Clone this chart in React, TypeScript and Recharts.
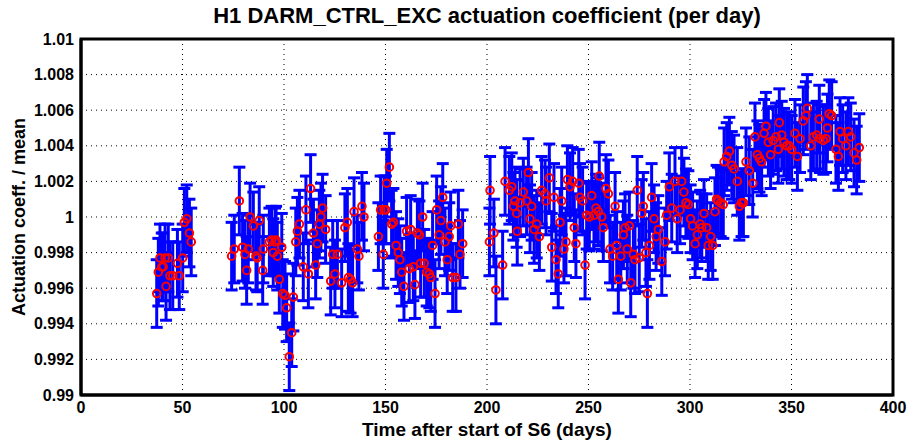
import React from 'react'
import {
  ScatterChart, Scatter, XAxis, YAxis, CartesianGrid, ErrorBar, Label, ReferenceArea,
} from 'recharts'

// ── Data ──────────────────────────────────────────────────────────────────

const days = [
  37.3, 38.1, 38.9, 39.8, 40.5, 41.4, 41.9, 43.0, 43.8, 45.2, 47.5, 48.4, 50.1, 50.9, 52.1, 53.4, 54.3,
  74.2, 75.5, 78.0, 79.6, 80.8, 81.6, 82.4, 83.3, 84.9, 86.2, 86.8, 87.8, 89.5, 89.8, 92.8, 93.9, 94.7,
  95.6, 96.1, 96.7, 97.7, 98.9, 99.4, 100.5, 101.3, 102.6, 103.8, 104.6, 105.8, 106.6, 107.6, 109.5,
  110.8, 112.0, 113.1, 114.5, 115.6, 116.4, 117.4, 118.2, 119.0, 120.5, 123.0, 124.0, 125.1, 126.3,
  128.4, 130.0, 131.2, 131.7, 132.8, 133.8, 134.5, 136.1, 136.9, 138.4, 139.4,
  146.5, 147.6, 148.9, 149.3, 150.2, 150.6, 151.9, 153.0, 153.9, 155.2, 156.3, 157.1, 158.0, 159.1,
  160.4, 161.7, 162.4, 163.7, 164.5, 165.7, 166.7, 167.3, 168.3, 169.1, 170.3, 171.6, 172.3, 173.2,
  174.4, 175.2, 176.4, 177.3, 178.2, 179.3, 180.4, 181.4, 182.1, 183.1, 184.7, 185.9, 186.7, 188.0,
  201.2, 201.5, 203.4, 204.4, 207.7, 208.9, 211.0, 212.2, 213.0, 213.8, 214.6, 214.9, 216.3, 217.9,
  219.5, 220.4, 221.2, 222.0, 223.2, 224.5, 225.8, 226.9, 228.6, 229.1, 230.7, 231.9, 233.0, 234.0,
  235.1, 236.0, 236.8, 237.9, 238.9, 239.6, 240.9, 242.2, 243.0, 243.8, 245.2, 245.8, 247.1, 248.3,
  249.1, 250.4, 251.6, 252.7, 253.7, 254.8, 255.3, 256.5, 257.3, 258.6, 259.8, 260.6, 261.9, 263.1,
  263.9, 264.7, 265.9, 267.2, 268.0, 269.1, 270.1, 270.8, 272.1, 272.9, 274.0, 275.0, 276.2, 277.0,
  278.3, 279.0, 280.0, 281.1, 282.3, 283.3, 284.4, 286.1, 287.7, 288.5, 289.8, 291.0, 292.6, 293.7,
  295.1, 295.9, 297.0, 298.0, 299.2, 300.3, 301.3, 302.5, 303.6, 305.0, 305.8, 306.9, 308.2, 309.0,
  310.2, 311.2, 312.3, 313.1, 313.8, 315.1, 316.4, 316.8, 318.1, 319.4, 320.6, 321.7, 323.3, 324.3,
  325.4, 326.3, 327.6, 329.2, 330.9, 332.0, 333.2, 334.2, 335.3, 336.5, 337.4, 338.6, 339.7, 341.0,
  342.4, 343.5, 344.0, 345.2, 346.3, 347.6, 348.9, 350.1, 351.7, 352.9, 354.2, 355.8, 357.1, 357.8,
  359.5, 360.8, 362.4, 363.7, 364.0, 365.7, 367.0, 367.7, 368.6, 369.8, 371.9, 373.1, 373.9, 375.2,
  376.8, 378.0, 379.2, 380.8, 382.1, 383.4,
]

const coeff = [
  0.9957, 0.9969, 0.9977, 0.9972, 0.9972, 0.9977, 0.9961, 0.9977, 0.9967, 0.9967, 0.9974, 0.9967, 0.9977, 0.9997, 0.9999, 0.9991, 0.9986,
  0.9978, 0.9982, 1.0009, 0.9983, 0.9979, 0.9970, 0.9982, 1.0000, 0.9995, 0.9978, 0.9977, 0.9998, 0.9970, 0.9982, 0.9986, 0.9987, 0.9980,
  0.9986, 0.9987, 0.9978, 0.9965, 0.9983, 0.9957, 0.9956, 0.9949, 0.99215, 0.9935, 0.9955, 0.9986, 0.9992, 0.9996, 0.9972,
  1.0004, 0.9968, 1.0016, 0.9991, 0.9973, 0.9985, 0.9996, 1.0000, 1.0005, 0.9993, 0.9964, 0.9979, 0.9968, 0.9979,
  0.9963, 0.9994, 0.9997, 0.9966, 0.9965, 0.9963, 1.0003, 0.9982, 0.9978, 1.0006, 1.0000,
  0.9989, 1.0004, 0.9979, 1.0004, 1.0004, 1.0019, 1.0028, 0.9996, 0.9997, 0.9984, 0.9980, 0.9976, 0.9969, 0.9961,
  0.9992, 0.9971, 0.9993, 0.9972, 0.9962, 0.9991, 0.9990, 0.9974, 1.0000, 0.9974, 0.9969, 0.9968, 0.9966, 0.9984,
  0.9957, 1.0004, 0.9990, 0.9998, 1.0011, 0.9986, 0.9976, 0.9989, 0.9995, 0.9966, 0.9966, 0.9996, 0.9979, 0.9985,
  0.9986, 1.0015, 0.9991, 0.9959, 0.9973, 1.0020, 1.0015, 1.0017, 1.0006, 1.0009, 1.0002, 0.9992, 1.0008, 1.0014,
  1.0009, 1.0025, 0.9999, 1.0006, 0.9993, 0.9996, 0.9989, 1.0015, 1.0013, 1.0009, 1.0022, 0.9983, 1.0011, 0.9976,
  0.9968, 0.9997, 1.0009, 0.9982, 0.9986, 1.0021, 1.0017, 1.0020, 0.9994, 0.9985, 1.0019, 1.0011, 1.0009, 0.9973,
  1.0001, 1.0000, 1.0012, 1.0001, 1.0005, 1.0003, 1.0023, 1.0000, 0.9994, 1.0016, 1.0013, 0.9982, 0.9978, 1.0006,
  0.9984, 0.9965, 0.9978, 0.9990, 0.9994, 0.9982, 0.9995, 0.9963, 0.9979, 0.9976, 1.0015, 0.9977, 1.0002, 1.0006,
  0.9980, 0.9957, 0.9984, 1.0011, 0.9999, 0.9989, 0.9993, 0.9975, 0.9986, 1.0001, 1.0017, 1.0005, 1.0020, 0.9999,
  1.0004, 1.0020, 1.0014, 1.0008, 1.0007, 0.9999, 0.9995, 0.9985, 0.9990, 0.9996, 0.9994, 1.0002, 0.9994, 0.9984,
  0.9989, 0.9984, 1.0003, 1.0010, 1.0009, 1.0008, 1.0007, 1.0031, 1.0034, 1.0037, 1.0029, 1.0027, 1.0020, 1.0006,
  1.0008, 1.0008, 1.0031, 1.0026, 1.0019, 1.0045, 1.0035, 1.0033, 1.0031, 1.0047, 1.0051, 1.0042, 1.0035, 1.0043,
  1.0045, 1.0038, 1.0053, 1.0046, 1.0042, 1.0040, 1.0040, 1.0038, 1.0047, 1.0034, 1.0044, 1.0054, 1.0057, 1.0061,
  1.0040, 1.0045, 1.0046, 1.0055, 1.0044, 1.0043, 1.0044, 1.0050, 1.0058, 1.0057, 1.0038, 1.0034, 1.0048, 1.0044,
  1.0040, 1.0048, 1.0045, 1.0036, 1.0032, 1.0039,
]

// half-length of the error bars (roughly the same for every day)
const ERR_HALF = 0.0019

const xTicks = [0, 50, 100, 150, 200, 250, 300, 350, 400]
const yTicks = [0.99, 0.992, 0.994, 0.996, 0.998, 1, 1.002, 1.004, 1.006, 1.008, 1.01]

const points = days.map((d, i) => ({ day: d, value: coeff[i], err: ERR_HALF }))

// ── Styles ────────────────────────────────────────────────────────────────

const FONT = '"Liberation Sans", Arial, Helvetica, sans-serif'
const TICK_STYLE = { fill: '#000', fontSize: 16, fontWeight: 'bold', fontFamily: FONT }
const FRAME = { stroke: '#000', strokeWidth: 3 }
const INWARD = { stroke: '#000', strokeWidth: 1.5 }

function RedRing(props: any) {
  const { cx, cy } = props
  if (cx == null || cy == null) return <g />
  return <circle cx={cx} cy={cy} r={3.8} fill="none" stroke="#ff0000" strokeWidth={2} />
}

export default function App() {
  return (
    <div style={{ position: 'absolute', left: 0, top: 0, width: 909, height: 441, background: '#fff' }}>
      <div
        style={{
          position: 'absolute', left: 81, top: 4, width: 812, textAlign: 'center',
          fontFamily: FONT, fontWeight: 'bold', fontSize: 22, lineHeight: '24px', color: '#000',
        }}
      >
        H1 DARM_CTRL_EXC actuation coefficient (per day)
      </div>
      <ScatterChart width={909} height={441} margin={{ top: 39, right: 16, bottom: 0, left: 0 }}>
        <CartesianGrid stroke="#000" strokeDasharray="1 4" strokeWidth={1} />
        <XAxis
          type="number" dataKey="day" domain={[0, 400]} ticks={xTicks} interval={0}
          tick={TICK_STYLE} tickLine={false} tickSize={0} tickMargin={7}
          axisLine={FRAME} stroke="#000" strokeWidth={3} height={46}
        >
          <Label
            value="Time after start of S6 (days)" position="insideBottom" offset={5}
            style={{ fill: '#000', fontSize: 19, fontWeight: 'bold', fontFamily: FONT }}
          />
        </XAxis>
        <XAxis
          xAxisId="bottomTicks" type="number" dataKey="day" domain={[0, 400]} ticks={xTicks}
          interval={0} mirror tick={false} tickLine={INWARD} stroke="#000" tickSize={6}
          axisLine={false} height={0}
        />
        <XAxis
          xAxisId="top" orientation="top" type="number" dataKey="day" domain={[0, 400]} ticks={xTicks}
          interval={0} mirror tick={false} tickLine={INWARD} stroke="#000" tickSize={6}
          axisLine={FRAME} height={0}
        />
        <YAxis
          type="number" dataKey="value" domain={[0.99, 1.01]} ticks={yTicks} interval={0}
          tick={TICK_STYLE} tickLine={false} tickSize={0} tickMargin={7}
          tickFormatter={(v) => String(v)} axisLine={FRAME} stroke="#000" strokeWidth={3} width={81}
        >
          <Label
            value="Actuation coeff. / mean" angle={-90} position="insideLeft" offset={19}
            style={{ fill: '#000', fontSize: 18, fontWeight: 'bold', fontFamily: FONT, textAnchor: 'middle' }}
          />
        </YAxis>
        <YAxis
          yAxisId="leftTicks" type="number" dataKey="value" domain={[0.99, 1.01]} ticks={yTicks}
          interval={0} mirror tick={false} tickLine={INWARD} stroke="#000" tickSize={6}
          axisLine={false} width={0}
        />
        <YAxis
          yAxisId="right" orientation="right" type="number" dataKey="value" domain={[0.99, 1.01]}
          ticks={yTicks} interval={0} mirror tick={false} tickLine={INWARD} stroke="#000" tickSize={6}
          axisLine={FRAME} width={0}
        />
        <Scatter data={points} shape={RedRing} isAnimationActive={false}>
          <ErrorBar dataKey="err" direction="y" width={6} stroke="#0000ff" strokeWidth={3} />
        </Scatter>
        {/* MATLAB-style box around the axes */}
        <ReferenceArea
          x1={0} x2={400} y1={0.99} y2={1.01} fill="none" fillOpacity={0}
          stroke="#000" strokeWidth={3} ifOverflow="visible"
        />
      </ScatterChart>
    </div>
  )
}
